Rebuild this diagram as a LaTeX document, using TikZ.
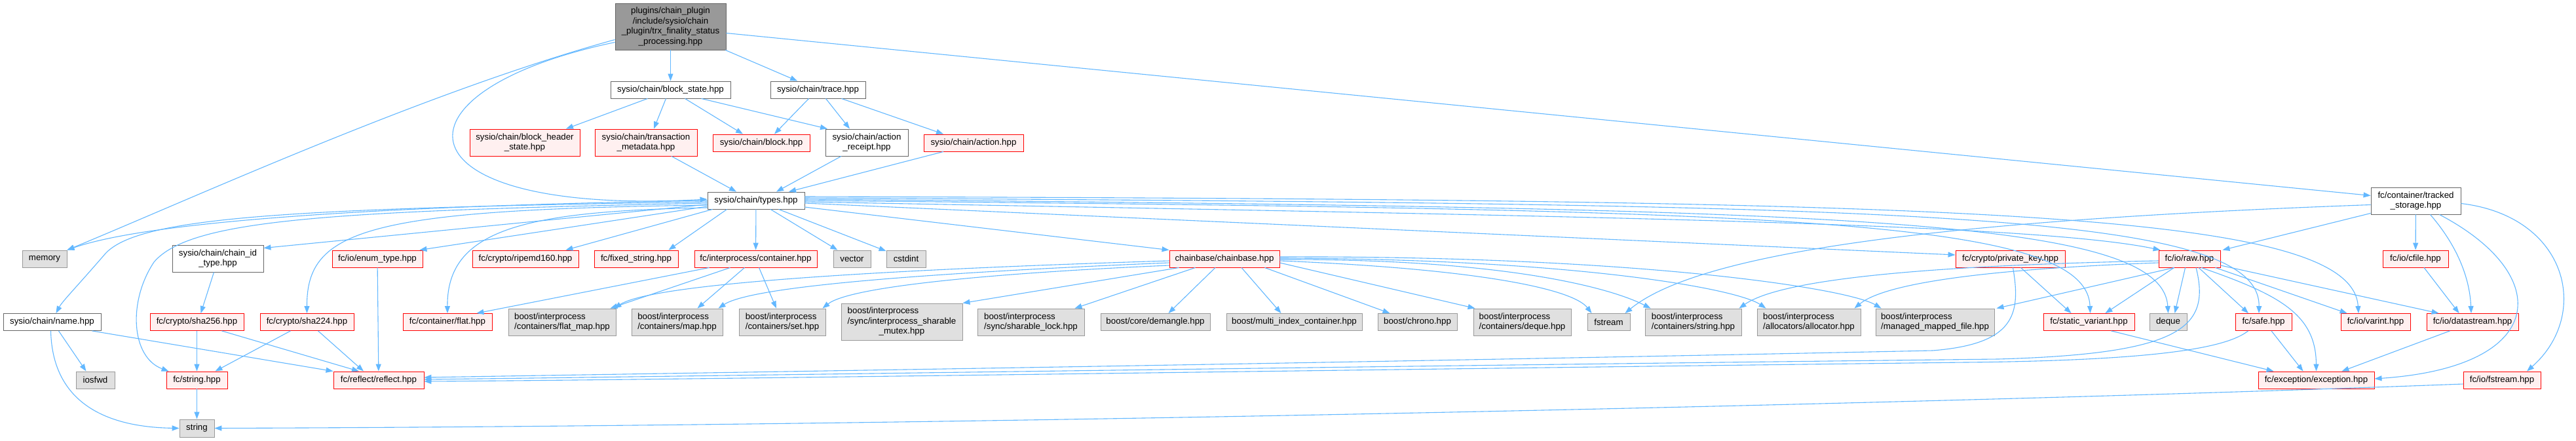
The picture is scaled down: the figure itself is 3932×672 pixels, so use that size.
\documentclass[tikz,border=0pt]{standalone}
\usepackage{fontspec}
\setmainfont{Liberation Sans}
\usetikzlibrary{arrows.meta,calc}
\definecolor{edgec}{HTML}{63B8FF}
\definecolor{redfill}{HTML}{FFF0F0}
\definecolor{grayb}{HTML}{666666}
\definecolor{leafb}{HTML}{999999}
\definecolor{leaffill}{HTML}{E0E0E0}
\definecolor{rootfill}{HTML}{999999}
\begin{document}
\begin{tikzpicture}[x=1pt,y=-1pt,
  box/.style={rectangle, inner sep=0pt, line width=0.9pt, align=center, font=\fontsize{13.3}{15.5}\selectfont, text=black},
  redn/.style={box, draw=red, fill=redfill},
  whiten/.style={box, draw=grayb, fill=white},
  grayn/.style={box, draw=leafb, fill=leaffill},
  rootn/.style={box, draw=grayb, fill=rootfill},
  sz/.style 2 args={minimum width=#1pt, minimum height=#2pt},
  edge/.style={draw=edgec, line width=1.1pt, -{Triangle[length=11pt,width=8pt]}}]
\useasboundingbox (0,0) rectangle (3932,672);
\fill[white] (0,0) rectangle (3932,672);

% top
\node[rootn, sz={169}{71}] (root) at (1023.5,40.5) {plugins/chain\_plugin\\/include/sysio/chain\\\_plugin/trx\_finality\_status\\\_processing.hpp};
\node[whiten, sz={183}{26}] (bs) at (1023.5,137) {sysio/chain/block\_state.hpp};
\node[whiten, sz={145}{26}] (tr) at (1248.5,137) {sysio/chain/trace.hpp};
\node[redn, sz={168}{41}] (bhs) at (801,217.5) {sysio/chain/block\_header\\\_state.hpp};
\node[redn, sz={156}{41}] (tm) at (986,217.5) {sysio/chain/transaction\\\_metadata.hpp};
\node[redn, sz={148}{26}] (blk) at (1162,218) {sysio/chain/block.hpp};
\node[whiten, sz={126}{41}] (ar) at (1323,217.5) {sysio/chain/action\\\_receipt.hpp};
\node[redn, sz={152}{26}] (act) at (1486,218) {sysio/chain/action.hpp};
\node[whiten, sz={148}{26}] (types) at (1154,306) {sysio/chain/types.hpp};
\node[whiten, sz={137}{41}] (tracked) at (3687.5,306.5) {fc/container/tracked\\\_storage.hpp};

% row A
\node[grayn, sz={68}{26}] (memory) at (68,395) {memory};
\node[whiten, sz={139}{41}] (chainid) at (332.5,394.5) {sysio/chain/chain\_id\\\_type.hpp};
\node[redn, sz={138}{26}] (enum) at (576,395) {fc/io/enum\_type.hpp};
\node[redn, sz={162}{26}] (ripemd) at (802,395) {fc/crypto/ripemd160.hpp};
\node[redn, sz={128}{26}] (fixstr) at (971,395) {fc/fixed\_string.hpp};
\node[redn, sz={187}{26}] (ipc) at (1153.5,395) {fc/interprocess/container.hpp};
\node[grayn, sz={57}{26}] (vector) at (1300.5,395) {vector};
\node[grayn, sz={60}{26}] (cstdint) at (1383,395) {cstdint};
\node[redn, sz={168}{26}] (chainbase) at (1869,395) {chainbase/chainbase.hpp};
\node[redn, sz={167}{26}] (privkey) at (3068.5,395) {fc/crypto/private\_key.hpp};
\node[redn, sz={94}{26}] (raw) at (3342,395) {fc/io/raw.hpp};
\node[redn, sz={100}{26}] (cfile) at (3687,395) {fc/io/cfile.hpp};

% row B
\node[whiten, sz={149}{26}] (name) at (79.5,491.5) {sysio/chain/name.hpp};
\node[redn, sz={143}{26}] (sha256) at (300.5,491.5) {fc/crypto/sha256.hpp};
\node[redn, sz={143}{26}] (sha224) at (468.5,491.5) {fc/crypto/sha224.hpp};
\node[redn, sz={136}{26}] (flat) at (683,491.5) {fc/container/flat.hpp};
\node[grayn, sz={164}{41}, align=left] (flatmap) at (858,491.5) {boost/interprocess\\/containers/flat\_map.hpp};
\node[grayn, sz={139}{41}, align=left] (map) at (1033.5,491.5) {boost/interprocess\\/containers/map.hpp};
\node[grayn, sz={132}{41}, align=left] (set) at (1194,491.5) {boost/interprocess\\/containers/set.hpp};
\node[grayn, sz={185}{56}, align=left] (mutex) at (1376.5,491) {boost/interprocess\\/sync/interprocess\_sharable\\\hspace*{48pt}\_mutex.hpp};
\node[grayn, sz={163}{41}, align=left] (lock) at (1573.5,491.5) {boost/interprocess\\/sync/sharable\_lock.hpp};
\node[grayn, sz={167}{26}] (demangle) at (1763.5,491.5) {boost/core/demangle.hpp};
\node[grayn, sz={207}{26}] (multi) at (1975.5,491.5) {boost/multi\_index\_container.hpp};
\node[grayn, sz={121}{26}] (chrono) at (2163.5,491.5) {boost/chrono.hpp};
\node[grayn, sz={149}{41}, align=left] (bdeque) at (2323.5,491.5) {boost/interprocess\\/containers/deque.hpp};
\node[grayn, sz={65}{26}] (fstream) at (2455.5,491.5) {fstream};
\node[grayn, sz={147}{41}, align=left] (bstring) at (2584.5,491.5) {boost/interprocess\\/containers/string.hpp};
\node[grayn, sz={158}{41}, align=left] (alloc) at (2761,491.5) {boost/interprocess\\/allocators/allocator.hpp};
\node[grayn, sz={181}{41}, align=left] (mmf) at (2953.5,491.5) {boost/interprocess\\/managed\_mapped\_file.hpp};
\node[redn, sz={139}{26}] (sv) at (3188.5,491.5) {fc/static\_variant.hpp};
\node[grayn, sz={57}{26}] (deque) at (3309.5,491.5) {deque};
\node[redn, sz={86}{26}] (safe) at (3455,491.5) {fc/safe.hpp};
\node[redn, sz={106}{26}] (varint) at (3626,491.5) {fc/io/varint.hpp};
\node[redn, sz={140}{26}] (ds) at (3774,491.5) {fc/io/datastream.hpp};

% row C
\node[grayn, sz={59}{26}] (iosfwd) at (145.5,580) {iosfwd};
\node[redn, sz={93}{26}] (fcstring) at (300.5,580) {fc/string.hpp};
\node[redn, sz={138}{26}] (reflect) at (578,580) {fc/reflect/reflect.hpp};
\node[redn, sz={177}{26}] (exc) at (3535.5,580) {fc/exception/exception.hpp};
\node[redn, sz={118}{26}] (fcfstream) at (3819,580) {fc/io/fstream.hpp};

% row D
\node[grayn, sz={53}{27}] (string) at (300.5,653.5) {string};

% ---- edges ----
\draw[edge] ($(root.west)+(0,20)$) .. controls (650,140) and (300,300) .. (memory.north east);
\draw[edge] ($(root.west)+(0,24)$) .. controls (580,140) and (600,330) .. ($(types.west)+(0,-2)$);
\draw[edge] (root) -- (bs);
\draw[edge] (root) -- (tr);
\draw[edge] ($(root.east)+(0,10)$) -- ($(tracked.west)+(0,-8)$);

\draw[edge] ($(bs.south)+(-35,0)$) -- ($(bhs.north)+(63,0)$);
\draw[edge] ($(bs.south)+(-7,0)$) -- ($(tm.north)+(12,0)$);
\draw[edge] ($(bs.south)+(22,0)$) -- ($(blk.north)+(-28,0)$);
\draw[edge] ($(bs.south)+(47,0)$) -- ($(ar.north)+(-60,0)$);
\draw[edge] ($(tr.south)+(-14,0)$) -- ($(blk.north)+(20,0)$);
\draw[edge] ($(tr.south)+(12,0)$) -- ($(ar.north)+(-26,0)$);
\draw[edge] ($(tr.south)+(36,0)$) -- ($(act.north)+(-46,0)$);
\draw[edge] ($(tm.south)+(39,0)$) -- ($(types.north)+(-30,0)$);
\draw[edge] ($(ar.south)+(-39,0)$) -- ($(types.north)+(31,0)$);
\draw[edge] ($(act.south)+(-46,0)$) -- ($(types.north)+(50,0)$);

% types to the left
\draw[edge] (types.west) .. controls (700,312) and (250,330) .. (memory.north east);
\draw[edge] ($(types.west)+(0,2)$) .. controls (450,318) and (210,330) .. (160,388) .. controls (115,440) and (95,460) .. ($(name.north)+(6,0)$);
\draw[edge] ($(types.west)+(0,4)$) .. controls (500,322) and (290,335) .. (235,400) .. controls (195,460) and (200,545) .. ($(fcstring.north west)+(4,0)$);
\draw[edge] ($(types.west)+(0,6)$) -- ($(chainid.north east)+(0,5)$);
\draw[edge] ($(types.west)+(0,7)$) .. controls (560,320) and (468,350) .. (sha224.north);
\draw[edge] ($(types.west)+(0,9)$) -- ($(enum.north east)+(-5,0)$);
\draw[edge] ($(types.south west)+(8,0)$) -- ($(ripemd.north east)+(-20,0)$);
\draw[edge] ($(types.south west)+(30,0)$) -- ($(fixstr.north east)+(-15,0)$);
\draw[edge] ($(types.west)+(0,11)$) .. controls (800,322) and (682,350) .. (flat.north);
% types downward
\draw[edge] (types) -- (ipc);
\draw[edge] (types) -- (vector);
\draw[edge] (types) -- (cstdint);
\draw[edge] ($(types.east)+(0,10)$) -- (chainbase.north west);
% types to the right
\draw[edge] ($(types.east)+(0,4)$) -- ($(privkey.west)+(0,-6)$);
\draw[edge] ($(types.east)+(0,2)$) .. controls (2400,330) and (3100,340) .. ($(raw.north west)+(3,0)$);
\draw[edge] (types.east) .. controls (2700,320) and (3185,330) .. ($(sv.north)+(2,0)$);
\draw[edge] ($(types.east)+(0,-2)$) .. controls (2800,318) and (3300,330) .. (deque.north);
\draw[edge] ($(types.east)+(0,-4)$) .. controls (2900,312) and (3450,320) .. ($(safe.north)+(-7,0)$);
\draw[edge] ($(types.east)+(0,-6)$) .. controls (3000,305) and (3590,320) .. ($(varint.north)+(-26,0)$);

% fc/interprocess/container
\draw[edge] ($(ipc.south west)+(23,0)$) -- ($(flat.north east)+(-24,0)$);
\draw[edge] ($(ipc.south west)+(55,0)$) -- ($(flatmap.north east)+(-9,0)$);
\draw[edge] ($(ipc.south west)+(77,0)$) -- ($(map.north east)+(-39,0)$);
\draw[edge] ($(ipc.south west)+(99,0)$) -- ($(set.north)+(-9,0)$);

% chainbase
\draw[edge] ($(chainbase.west)+(0,3)$) .. controls (1400,410) and (1000,430) .. ($(flatmap.north east)+(-3,0)$);
\draw[edge] ($(chainbase.west)+(0,6)$) .. controls (1450,415) and (1150,435) .. ($(map.north east)+(-7,0)$);
\draw[edge] ($(chainbase.west)+(0,10)$) .. controls (1550,415) and (1300,435) .. ($(set.north east)+(-5,0)$);
\draw[edge] ($(chainbase.south west)+(15,0)$) -- (mutex.north east);
\draw[edge] ($(chainbase.south west)+(40,0)$) -- ($(lock.north east)+(-15,0)$);
\draw[edge] ($(chainbase.south)+(-14,0)$) -- ($(demangle.north)+(20,0)$);
\draw[edge] ($(chainbase.south)+(26,0)$) -- ($(multi.north)+(-20,0)$);
\draw[edge] ($(chainbase.south east)+(-23,0)$) -- ($(chrono.north)+(-42,0)$);
\draw[edge] ($(chainbase.east)+(0,6)$) -- ($(bdeque.north west)+(3,0)$);
\draw[edge] ($(chainbase.east)+(0,3)$) .. controls (2250,410) and (2400,440) .. ($(fstream.north west)+(7,0)$);
\draw[edge] ($(chainbase.east)+(0,1)$) .. controls (2300,395) and (2460,440) .. ($(bstring.north west)+(9,0)$);
\draw[edge] ($(chainbase.east)+(0,-1)$) .. controls (2400,395) and (2650,440) .. ($(alloc.north west)+(14,0)$);
\draw[edge] ($(chainbase.east)+(0,-3)$) .. controls (2500,390) and (2820,440) .. ($(mmf.north west)+(9,0)$);

% raw
\draw[edge] ($(raw.west)+(0,3)$) .. controls (2950,405) and (2720,425) .. ($(bstring.north east)+(-4,0)$);
\draw[edge] ($(raw.west)+(0,6)$) .. controls (3050,410) and (2880,430) .. ($(alloc.north east)+(-10,0)$);
\draw[edge] ($(raw.south west)+(24,0)$) -- ($(mmf.north east)+(3,0)$);
\draw[edge] ($(raw.south west)+(24,0)$) -- ($(sv.north east)+(-45,0)$);
\draw[edge] ($(raw.south west)+(41,0)$) -- ($(deque.north)+(10,0)$);
\draw[edge] ($(raw.south)+(14,0)$) -- ($(safe.north)+(-23,0)$);
\draw[edge] ($(raw.south east)+(-8,0)$) -- ($(varint.north west)+(10,0)$);
\draw[edge] ($(raw.east)+(0,10)$) -- ($(ds.north west)+(19,0)$);
\draw[edge] ($(raw.south)+(18,0)$) .. controls (3480,450) and (3535,480) .. (exc.north);
\draw[edge] ($(raw.south)+(10,0)$) .. controls (3375,500) and (3330,540) .. (3050,548) .. controls (2000,560) and (1000,575) .. ($(reflect.east)+(0,-1)$);

% private_key
\draw[edge] ($(privkey.south)+(16,0)$) -- ($(sv.north west)+(43,0)$);
\draw[edge] ($(privkey.south)+(4,0)$) .. controls (3085,480) and (3075,525) .. (2950,535) .. controls (2000,555) and (1000,570) .. ($(reflect.east)+(0,-4)$);

% safe, static_variant, datastream
\draw[edge] ($(safe.south west)+(20,0)$) .. controls (3400,530) and (3300,550) .. (3000,553) .. controls (2000,565) and (1000,580) .. ($(reflect.east)+(0,2)$);
\draw[edge] ($(safe.south)+(12,0)$) -- ($(exc.north)+(-20,0)$);
\draw[edge] ($(sv.south)+(34,0)$) -- ($(exc.north west)+(24,0)$);
\draw[edge] ($(ds.south west)+(36,0)$) -- ($(exc.north east)+(-50,0)$);

% tracked_storage
\draw[edge] ($(tracked.west)+(0,6)$) .. controls (3000,335) and (2600,380) .. ($(fstream.north east)+(-8,0)$);
\draw[edge] ($(tracked.south west)+(0,-2)$) -- ($(raw.north east)+(3,0)$);
\draw[edge] (tracked) -- (cfile);
\draw[edge] ($(tracked.south)+(22,0)$) .. controls (3755,380) and (3770,430) .. ($(ds.north)+(-2,0)$);
\draw[edge] ($(tracked.south)+(36,0)$) .. controls (3900,420) and (3890,560) .. ($(exc.east)+(0,-2)$);
\draw[edge] ($(tracked.east)+(0,4)$) .. controls (3920,330) and (3955,480) .. ($(fcfstream.north)+(38,0)$);
\draw[edge] ($(cfile.south)+(13,0)$) -- ($(ds.north west)+(50,0)$);
\draw[edge] ($(fcfstream.west)+(0,6)$) .. controls (3000,615) and (1500,650) .. (string.east);

% lower left
\draw[edge] ($(chainid.south)+(-6,0)$) -- ($(sha256.north)+(6,0)$);
\draw[edge] ($(name.south)+(10,0)$) -- ($(iosfwd.north)+(-14,0)$);
\draw[edge] ($(name.south)+(-2,0)$) .. controls (80,620) and (170,652) .. (string.west);
\draw[edge] ($(name.south east)+(-14,0)$) -- (reflect.north west);
\draw[edge] (sha256) -- (fcstring);
\draw[edge] ($(sha256.south east)+(-34,0)$) -- ($(reflect.north)+(-30,0)$);
\draw[edge] ($(sha224.south)+(-25,0)$) -- ($(fcstring.north east)+(-19,0)$);
\draw[edge] ($(sha224.south)+(17,0)$) -- ($(reflect.north)+(-23,0)$);
\draw[edge] (enum) -- (reflect);
\draw[edge] (fcstring) -- (string);
\end{tikzpicture}
\end{document}
